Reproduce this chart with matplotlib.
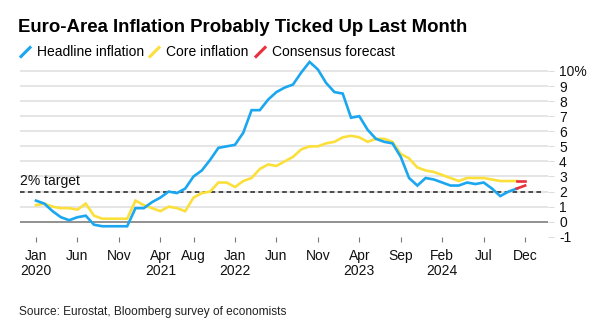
import matplotlib
matplotlib.use('Agg')
import matplotlib.pyplot as plt
from matplotlib.lines import Line2D
import numpy as np

# monthly year-on-year %, Jan 2020 .. Nov 2024
headline = [1.4, 1.2, 0.7, 0.3, 0.1, 0.3, 0.4, -0.2, -0.3, -0.3, -0.3, -0.3,
            0.9, 0.9, 1.3, 1.6, 2.0, 1.9, 2.2, 3.0, 3.4, 4.1, 4.9, 5.0,
            5.1, 5.9, 7.4, 7.4, 8.1, 8.6, 8.9, 9.1, 9.9, 10.6, 10.1, 9.2,
            8.6, 8.5, 6.9, 7.0, 6.1, 5.5, 5.3, 5.2, 4.3, 2.9, 2.4, 2.9,
            2.8, 2.6, 2.4, 2.4, 2.6, 2.5, 2.6, 2.2, 1.7, 2.0, 2.2]
core = [1.1, 1.2, 1.0, 0.9, 0.9, 0.8, 1.2, 0.4, 0.2, 0.2, 0.2, 0.2,
        1.4, 1.1, 0.9, 0.7, 1.0, 0.9, 0.7, 1.6, 1.9, 2.0, 2.6, 2.6,
        2.3, 2.7, 2.9, 3.5, 3.8, 3.7, 4.0, 4.3, 4.8, 5.0, 5.0, 5.2,
        5.3, 5.6, 5.7, 5.6, 5.3, 5.5, 5.5, 5.3, 4.5, 4.2, 3.6, 3.4,
        3.3, 3.1, 2.9, 2.7, 2.9, 2.9, 2.9, 2.8, 2.7, 2.7, 2.7]
# consensus for Dec 2024
headline_fc = 2.4
core_fc = 2.7
target = 2

tick_months = [0, 5, 10, 15, 19, 24, 29, 34, 39, 44, 49, 54, 59]
tick_labels = ['Jan\n2020', 'Jun\n ', 'Nov\n ', 'Apr\n2021', 'Aug\n ', 'Jan\n2022',
               'Jun\n ', 'Nov\n ', 'Apr\n2023', 'Sep\n ', 'Feb\n2024', 'Jul\n ', 'Dec\n ']
y_ticks = [-1, 0, 1, 2, 3, 4, 5, 6, 7, 8, 9, 10]
y_labels = ['-1', '0', '1', '2', '3', '4', '5', '6', '7', '8', '9', '10%']

blue = '#1ba7f0'
yellow = '#fbe03c'
red = '#e8313d'

plt.rcParams['font.family'] = ['Liberation Sans', 'DejaVu Sans']

W, H = 605, 334
fig = plt.figure(figsize=(W / 100, H / 100), dpi=100)
ax = fig.add_axes([20 / W, 1 - 236.8 / H, 528 / W, (236.8 - 57.4) / H])

x = np.arange(len(headline))
ax.plot(x, core, color=yellow, lw=1.9, solid_joinstyle='miter', zorder=3)
ax.plot(x, headline, color=blue, lw=1.9, solid_joinstyle='miter', zorder=4)
n = len(headline)
ax.plot([n - 1, n], [core[-1], core_fc], color=red, lw=1.9, zorder=5)
ax.plot([n - 1, n], [headline[-1], headline_fc], color=red, lw=1.9, zorder=5)

for v in range(0, 11):
    ax.axhline(v, color='#888888' if v == 0 else '#e3e3e3', lw=1.3, zorder=1)
ax.plot([-1.93, 60.9], [target, target], color='#222222', lw=1.1,
        dashes=(3, 2.2), zorder=2)
ax.text(-1.93, target + 0.25, '2% target', fontsize=10, color='#111111',
        va='bottom', ha='left')

ax.set_xlim(-1.93, 61.76)
ax.set_ylim(-1, 10.9)
ax.set_xticks(tick_months)
ax.set_xticklabels(tick_labels, fontsize=10, linespacing=1.15)
ax.yaxis.tick_right()
ax.set_yticks(y_ticks)
ax.set_yticklabels(y_labels, fontsize=10, ha='left')
ax.tick_params(axis='y', length=4, color='#dddddd', pad=4, labelcolor='#111111')
ax.tick_params(axis='x', length=3.5, color='#777777', pad=5, labelcolor='#111111')
for s in ax.spines.values():
    s.set_visible(False)

fig.text(18 / W, 1 - 27.5 / H, 'Euro-Area Inflation Probably Ticked Up Last Month',
         fontsize=13.4, fontweight='bold', va='center', ha='left')
legend_items = [('Headline inflation', blue, 21), ('Core inflation', yellow, 150),
                ('Consensus forecast', red, 256)]
for label, col, px in legend_items:
    fig.add_artist(Line2D([px / W, (px + 9) / W], [1 - 56.5 / H, 1 - 47.5 / H],
                          color=col, lw=2.2, transform=fig.transFigure))
    fig.text((px + 16) / W, 1 - 52 / H, label, fontsize=10, va='center', ha='left')

fig.text(19 / W, 1 - 312 / H, 'Source: Eurostat, Bloomberg survey of economists',
         fontsize=8.6, va='center', ha='left', color='#222222')

fig.savefig('out.png', dpi=100)
